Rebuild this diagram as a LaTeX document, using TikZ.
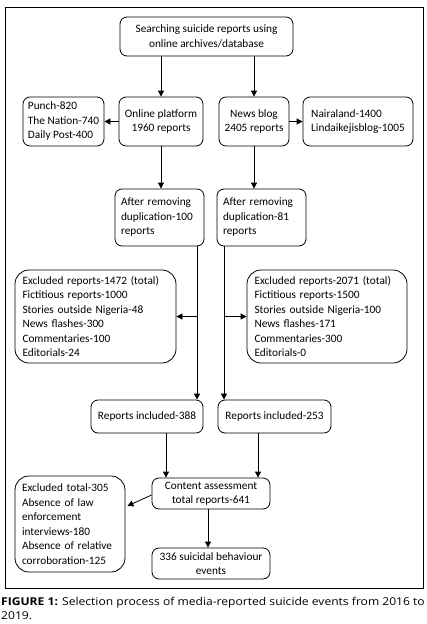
\documentclass[tikz,border=0pt]{standalone}
\usepackage{fontspec}
\setmainfont{Carlito}
\newfontfamily\capfont[FakeStretch=1.12]{Open Sans}
\usetikzlibrary{arrows.meta,calc}
\begin{document}
\begin{tikzpicture}[x=1pt,y=-1pt,
  box/.style={draw,line width=0.8pt,rounded corners=7pt,inner sep=0pt,font=\fontsize{11.3}{14.5}\selectfont},
  bigbox/.style={box,rounded corners=14pt},
  arr/.style={line width=0.8pt,-{Triangle[length=6pt,width=6pt]}},
  ln/.style={line width=0.8pt}]
\useasboundingbox (0,0) rectangle (427,624);
\draw[line width=0.9pt] (5,7) rectangle (423,588);
\node[box,minimum width=173pt,minimum height=39pt,align=center] (top) at (206.5,36.5) {Searching suicide reports using\\online archives/database};
\node[box,minimum width=81pt,minimum height=49pt] (punch) at (63.5,121.5) {\begin{tabular}{@{}l@{}}Punch-820\\The Nation-740\\Daily Post-400\end{tabular}};
\node[box,minimum width=84pt,minimum height=49pt,align=center] (online) at (161,121.5) {Online platform\\1960 reports};
\node[box,minimum width=70pt,minimum height=49pt,align=center] (news) at (254,121.5) {News blog\\2405 reports};
\node[box,minimum width=110pt,minimum height=49pt] (naira) at (358,121.5) {\begin{tabular}{@{}l@{}}Nairaland-1400\\Lindaikejisblog-1005\end{tabular}};
\node[box,minimum width=89pt,minimum height=57pt,text width=77pt,align=left] (dup1) at (159.5,217.5) {After removing\\duplication-100\\reports};
\node[box,minimum width=89pt,minimum height=57pt,text width=77pt,align=left] (dup2) at (261.5,217.5) {After removing\\duplication-81\\reports};
\node[bigbox,minimum width=161pt,minimum height=93pt,text width=146pt,align=left] (exc1) at (95.5,316.5) {Excluded reports-1472 (total)\\Fictitious reports-1000\\Stories outside Nigeria-48\\News flashes-300\\Commentaries-100\\Editorials-24};
\node[bigbox,minimum width=160pt,minimum height=93pt,text width=145pt,align=left] (exc2) at (327,316.5) {Excluded reports-2071 (total)\\Fictitious reports-1500\\Stories outside Nigeria-100\\News flashes-171\\Commentaries-300\\Editorials-0};
\node[box,minimum width=112pt,minimum height=33pt,align=center] (inc1) at (147,416.5) {Reports included-388};
\node[box,minimum width=113pt,minimum height=33pt,align=center] (inc2) at (274.5,416.5) {Reports included-253};
\node[box,minimum width=118pt,minimum height=31pt,align=center] (content) at (211,493.5) {Content assessment\\total reports-641};
\node[bigbox,minimum width=110pt,minimum height=96pt,text width=96pt,align=left] (exc3) at (70,524) {Excluded total-305\\Absence of law\\enforcement\\interviews-180\\Absence of relative\\corroboration-125};
\node[box,minimum width=118pt,minimum height=31pt,align=center] (final) at (211,563.5) {336 suicidal behaviour\\events};
\coordinate (lx) at (197,0);
\coordinate (rx) at (224,0);
\draw[arr] (online.north |- top.south) -- (online.north);
\draw[arr] (news.north |- top.south) -- (news.north);
\draw[arr] (online.west) -- (punch.east);
\draw[arr] (news.east) -- (naira.west);
\draw[arr] (online.south) -- (online.south |- dup1.north);
\draw[arr] (news.south) -- (news.south |- dup2.north);
\draw[arr] (lx |- dup1.south) -- (lx |- inc1.north);
\draw[arr] (rx |- dup2.south) -- (rx |- inc2.north);
\draw[arr] (lx |- exc1.east) -- (exc1.east);
\draw[arr] (rx |- exc2.west) -- (exc2.west);
\draw[arr] ([xshift=19pt]inc1.south) -- ([xshift=19pt]inc1.south |- content.north);
\draw[arr] ([xshift=-16.5pt]inc2.south) -- ([xshift=-16.5pt]inc2.south |- content.north);
\draw[arr] ([yshift=-1.5pt]content.west) -- ($(exc3.east)+(2,-18)$);
\draw[arr] ([xshift=-3pt]content.south) -- ([xshift=-3pt]content.south |- final.north);
\node[anchor=north west,inner sep=0pt,align=left,font=\capfont\fontsize{10.8}{14}\selectfont] (cap) at (1,597) {\textbf{FIGURE 1:} Selection process of media-reported suicide events from 2016 to\\2019.};
\end{tikzpicture}
\end{document}
